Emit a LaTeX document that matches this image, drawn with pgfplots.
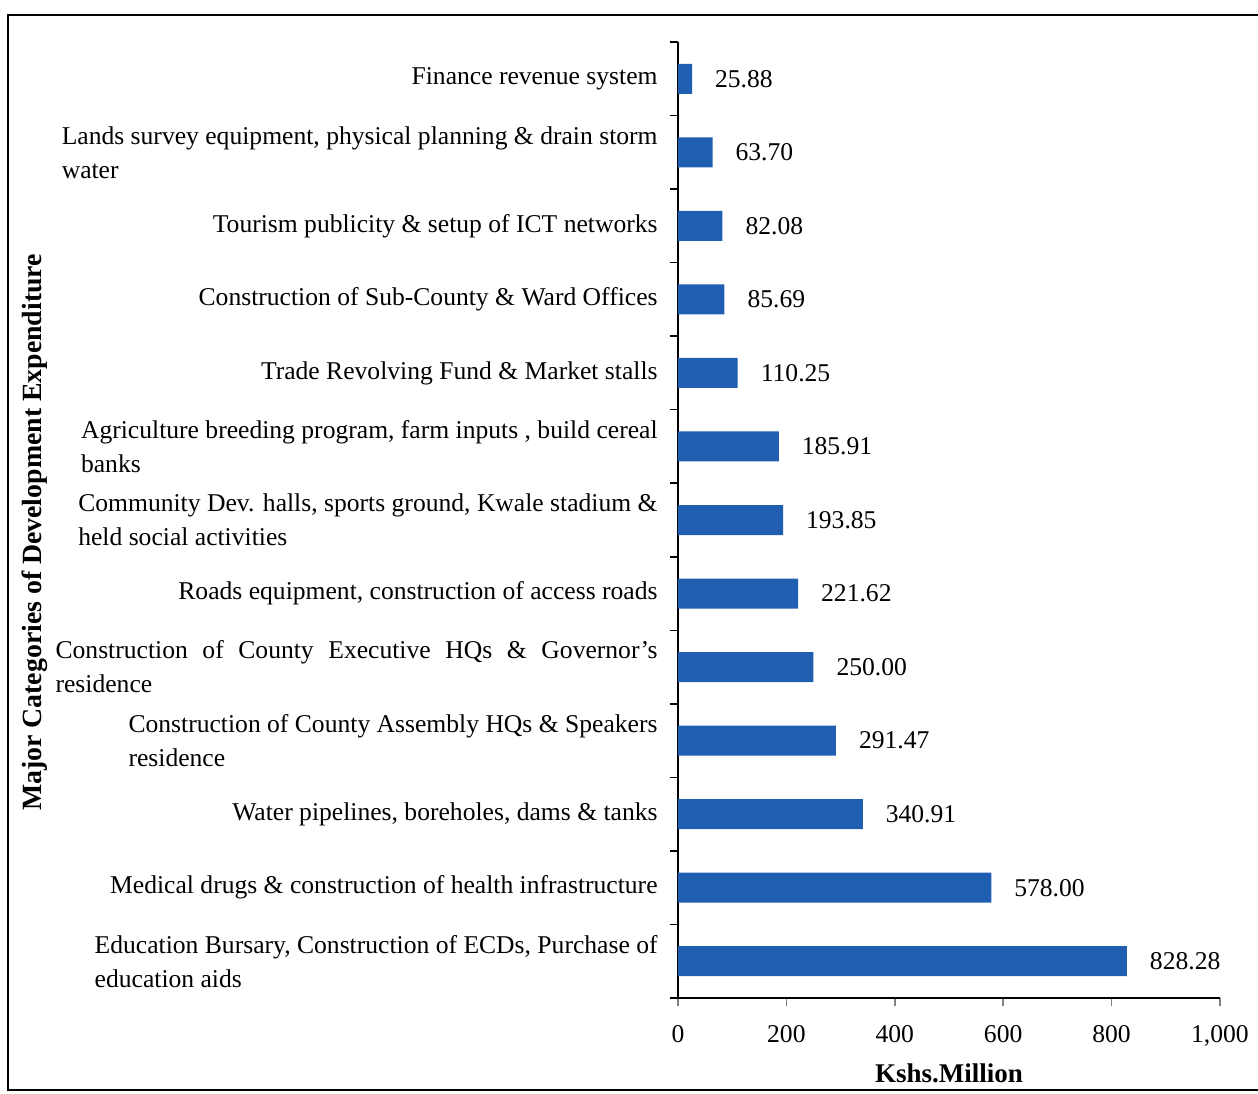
\documentclass[border=0pt]{standalone}
\usepackage{fontspec}
\setmainfont{Liberation Serif}
\usepackage{pgfplots}
\pgfplotsset{compat=1.18}

\definecolor{barblue}{RGB}{31,94,176}

\begin{document}
\begin{tikzpicture}[font=\fontsize{12.8}{17}\selectfont]
% page = whole scan (1 px = 0.5pt), origin at the axis corner
\useasboundingbox (-339pt,-47.5pt) rectangle (290pt,499pt);
\draw[line width=0.8pt] (290pt,491.5pt) -- (-335pt,491.5pt) -- (-335pt,-46pt) -- (290pt,-46pt);

\begin{axis}[
    at={(0,0)}, anchor=south west,
    scale only axis,
    width=271pt, height=478pt,
    xbar,
    bar width=15pt,
    axis lines=left,
    axis line style={-, line width=0.8pt},
    xmin=0, xmax=1000,
    ymin=-0.5, ymax=12.5,
    xtick={0,200,...,1000},
    ytick={0,...,12},
    minor ytick={-0.5,0.5,...,12.5},
    major tick length=4pt,
    minor tick length=4pt,
    tick align=outside,
    xtick style={line width=0.8pt},
    ytick style={draw=none},
    minor y tick style={draw=black, line width=0.8pt},
    /pgf/number format/assume math mode=true,
    /pgf/number format/1000 sep={,},
    xticklabel style={yshift=-6pt},
    yticklabel style={align=left, anchor=east, inner sep=0pt, xshift=-6pt},
    yticklabels={
        {Education Bursary, Construction of ECDs, Purchase of\\education aids},
        {Medical drugs \& construction of health infrastructure},
        {Water pipelines, boreholes, dams \& tanks},
        {Construction of County Assembly HQs \& Speakers\\residence},
        {\makebox[301pt][s]{Construction of County Executive HQs \& Governor’s}\\residence},
        {Roads equipment, construction of access roads},
        {Community Dev. halls, sports ground, Kwale stadium \&\\held social activities},
        {Agriculture breeding program, farm inputs , build cereal\\banks},
        {Trade Revolving Fund \& Market stalls},
        {Construction of Sub-County \& Ward Offices},
        {Tourism publicity \& setup of ICT networks},
        {Lands survey equipment, physical planning \& drain storm\\water},
        {Finance revenue system}
    },
    xlabel={\textbf{Kshs.Million}},
    xlabel style={font=\fontsize{13.5}{16}\selectfont, yshift=-2pt},
    every axis y label/.style={at={(axis description cs:-1.187,0.487)}, rotate=90, anchor=center,
        font=\fontsize{13.9}{17}\selectfont},
    ylabel={\textbf{Major Categories of Development Expenditure}},
    nodes near coords,
    every node near coord/.append style={xshift=8pt, /pgf/number format/fixed, /pgf/number format/fixed zerofill, /pgf/number format/precision=2},
    clip=false,
]
\addplot[fill=barblue, draw=none] coordinates {
    (828.28,0)
    (578.00,1)
    (340.91,2)
    (291.47,3)
    (250.00,4)
    (221.62,5)
    (193.85,6)
    (185.91,7)
    (110.25,8)
    (85.69,9)
    (82.08,10)
    (63.70,11)
    (25.88,12)
};
\end{axis}
\end{tikzpicture}
\end{document}
